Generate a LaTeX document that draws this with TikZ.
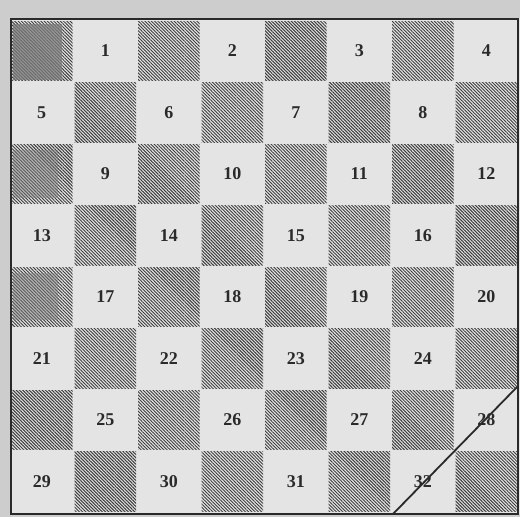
\documentclass[tikz,border=0pt]{standalone}
\usepackage{fontspec}
\setmainfont{Liberation Serif}
\usetikzlibrary{patterns.meta}
\definecolor{paper}{HTML}{E4E4E4}
\definecolor{margin}{HTML}{CDCDCD}
\definecolor{ink}{HTML}{2A2A2A}
\definecolor{hatch}{HTML}{3C3C3C}
\definecolor{smudge}{HTML}{7C7C7C}
\begin{document}
\begin{tikzpicture}[x=1pt,y=-1pt,
  darksq/.style={pattern={Lines[angle=-45,distance=2.3pt,line width=0.95pt]},pattern color=hatch},
  smudgesq/.style={fill=smudge,fill opacity=0.75},
  num/.style={font=\fontsize{18}{20}\selectfont\bfseries,text=ink},
  frame/.style={draw=ink,line width=2.4pt},
  cut/.style={draw=ink,line width=1.8pt}]
\useasboundingbox (0,0) rectangle (520,517);
\fill[margin] (0,0) rectangle (520,517);
\fill[paper] (10,18) rectangle (520,514);
\foreach \r in {0,...,7} {
  \foreach \c in {0,...,7} {
    \pgfmathtruncatemacro\pp{mod(\r+\c,2)}
    \pgfmathsetmacro\xa{10+\c*63.5}
    \pgfmathsetmacro\ya{20+\r*61.5}
    \pgfmathsetmacro\xb{\xa+63.5}
    \pgfmathsetmacro\yb{\ya+61.5}
    \ifnum\pp=0
      \path[darksq] (\xa+1,\ya+1) rectangle (\xb-1,\yb-1);
    \else
      \pgfmathtruncatemacro\n{4*\r+floor(\c/2)+1}
      \node[num] (l\n) at ({(\xa+\xb)/2},{(\ya+\yb)/2}) {\n};
    \fi
  }
}
\fill[smudgesq] (13,24) rectangle (62,80);
\fill[smudgesq,fill opacity=0.45] (13,150) rectangle (58,198);
\fill[smudgesq,fill opacity=0.45] (13,273) rectangle (58,320);
\draw[frame] (11,19) rectangle (518,514);
\coordinate (d1) at (393,514);
\coordinate (d2) at (518,386);
\draw[cut] (d1) -- (d2);
\end{tikzpicture}
\end{document}
